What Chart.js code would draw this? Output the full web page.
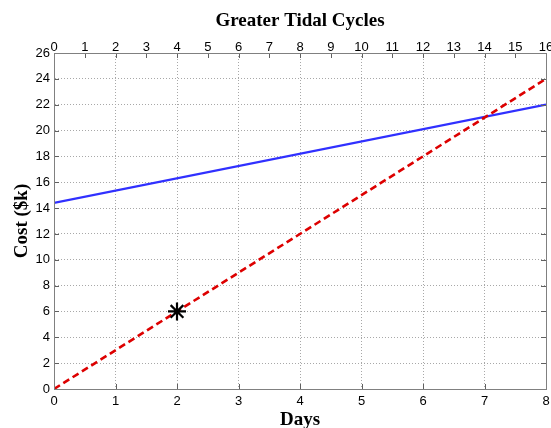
<!DOCTYPE html>
<html>
<head>
<meta charset="utf-8">
<script src="https://cdn.jsdelivr.net/npm/chart.js@4/dist/chart.umd.min.js"></script>
<style>
html,body{margin:0;padding:0;background:#fff;}
#wrap{width:551px;height:428px;}
</style>
</head>
<body>
<div id="wrap"><canvas id="c" width="551" height="428"></canvas></div>
<script>
// Data
const days = [0, 8];
const fixedCost = [14.4, 22];      // blue solid line
const variableCost = [0, 24];      // red dashed line
const markerDay = [2];
const markerCost = [6];
const xTitle = 'Days';
const x2Title = 'Greater Tidal Cycles';
const yTitle = 'Cost ($k)';

const toPts = (xs, ys) => xs.map((x, i) => ({x: x, y: ys[i]}));

const tickFont = {family: '"Liberation Sans", Arial, sans-serif', size: 13};
const titleFont = {family: '"Liberation Serif", "Times New Roman", serif', size: 19, weight: 'bold', lineHeight: 1};
const gridCfg = {color: '#a8a8a8', lineWidth: 1, drawTicks: false};
const borderCfg = {display: true, color: '#808080', width: 1, dash: [1, 2]};

const innerTicks = {
  id: 'innerTicks',
  afterDatasetsDraw(chart) {
    const ctx = chart.ctx;
    const a = chart.chartArea;
    const L = 5;
    ctx.save();
    ctx.strokeStyle = '#606060';
    ctx.lineWidth = 1;
    ctx.setLineDash([]);
    ctx.beginPath();
    const xs = chart.scales.x, x2 = chart.scales.x2, ys = chart.scales.y;
    xs.ticks.forEach(t => {
      const p = Math.round(xs.getPixelForValue(t.value)) + 0.5;
      ctx.moveTo(p, a.bottom); ctx.lineTo(p, a.bottom - L);
    });
    x2.ticks.forEach(t => {
      const p = Math.round(x2.getPixelForValue(t.value)) + 0.5;
      ctx.moveTo(p, a.top); ctx.lineTo(p, a.top + L);
    });
    ys.ticks.forEach(t => {
      const p = Math.round(ys.getPixelForValue(t.value)) + 0.5;
      ctx.moveTo(a.left, p); ctx.lineTo(a.left + L, p);
      ctx.moveTo(a.right, p); ctx.lineTo(a.right - L, p);
    });
    ctx.stroke();
    // solid frame
    ctx.strokeStyle = '#808080';
    ctx.strokeRect(Math.round(a.left) + 0.5, Math.round(a.top) + 0.5, Math.round(a.right - a.left), Math.round(a.bottom - a.top));
    ctx.restore();
  }
};

const noPad = (s) => { s.paddingLeft = 0; s.paddingRight = 0; };

new Chart(document.getElementById('c'), {
  type: 'scatter',
  data: {
    datasets: [
      {
        label: 'Fixed', type: 'line', data: toPts(days, fixedCost),
        borderColor: '#3030ff', borderWidth: 2.2, pointRadius: 0, fill: false,
        xAxisID: 'x', yAxisID: 'y', order: 2
      },
      {
        label: 'Variable', type: 'line', data: toPts(days, variableCost),
        borderColor: '#dd0000', borderWidth: 2.6, borderDash: [7, 4], pointRadius: 0, fill: false,
        xAxisID: 'x', yAxisID: 'y', order: 1
      },
      {
        label: 'Point', data: toPts(markerDay, markerCost),
        pointStyle: 'star', pointRadius: 9, borderColor: '#000', borderWidth: 2.2,
        backgroundColor: '#000', xAxisID: 'x', yAxisID: 'y', order: 0
      }
    ]
  },
  options: {
    responsive: false,
    animation: false,
    devicePixelRatio: 1,
    layout: {padding: {left: 0, right: 5, top: 0, bottom: 0}, autoPadding: false},
    plugins: {legend: {display: false}, tooltip: {enabled: false}},
    scales: {
      x: {
        type: 'linear', position: 'bottom', min: 0, max: 8,
        ticks: {stepSize: 1, font: tickFont, color: '#000', padding: 5, maxRotation: 0},
        grid: gridCfg, border: borderCfg,
        title: {display: true, text: xTitle, font: titleFont, color: '#000', padding: {top: 0, bottom: -2}},
        afterFit(s) { s.height = 39; noPad(s); }
      },
      x2: {
        type: 'linear', position: 'top', min: 0, max: 16,
        ticks: {stepSize: 1, font: tickFont, color: '#000', padding: -2, maxRotation: 0},
        grid: {display: false, drawTicks: false}, border: {display: false},
        title: {display: true, text: x2Title, font: titleFont, color: '#000', padding: {top: 12, bottom: 0}},
        afterFit(s) { s.height = 53; noPad(s); }
      },
      y: {
        type: 'linear', position: 'left', min: 0, max: 26,
        ticks: {stepSize: 2, font: tickFont, color: '#000', padding: 4},
        grid: gridCfg, border: borderCfg,
        title: {display: true, text: yTitle, font: titleFont, color: '#000', padding: {top: 13, bottom: 0}},
        afterFit(s) { s.width = 54; }
      }
    }
  },
  plugins: [innerTicks]
});
</script>
</body>
</html>
